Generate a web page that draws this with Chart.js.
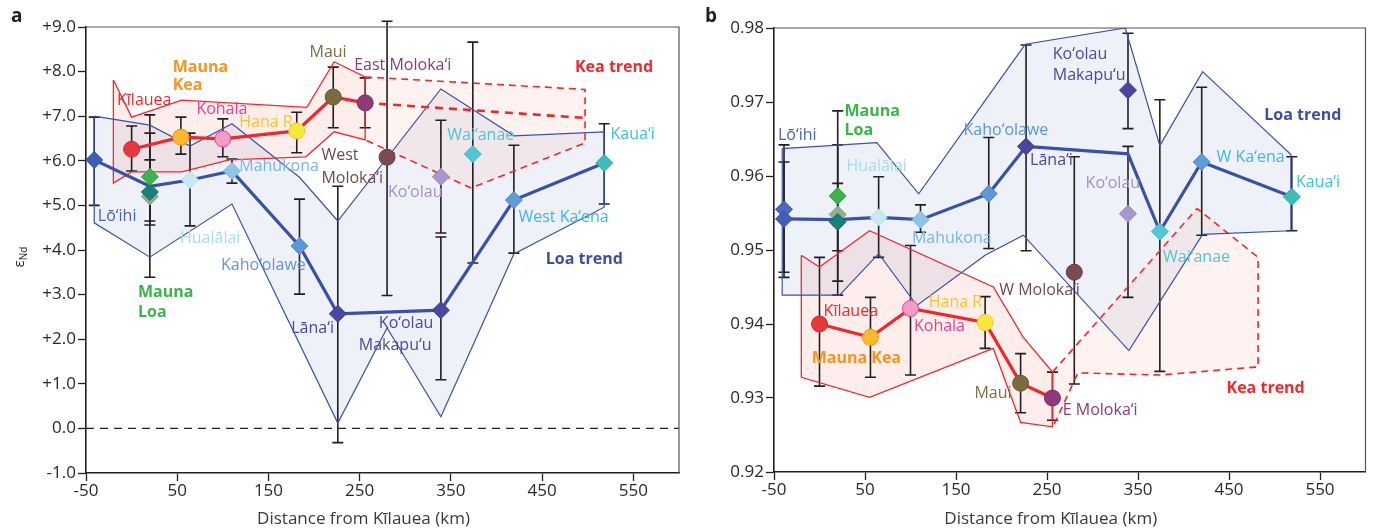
<!DOCTYPE html>
<html><head><meta charset="utf-8">
<script src="https://cdn.jsdelivr.net/npm/chart.js@4.4.1/dist/chart.umd.min.js"></script>
<style>
html,body{margin:0;padding:0;background:#fff;}
body{width:1375px;height:528px;overflow:hidden;position:relative;}
canvas{position:absolute;top:0;}
</style></head><body>
<canvas id="ca" width="690" height="528" style="left:0;width:690px;height:528px"></canvas>
<canvas id="cb" width="687" height="528" style="left:688px;width:687px;height:528px"></canvas>
<script>
// ---------------- DATA ----------------
const xTicks = [-50, 50, 150, 250, 350, 450, 550];
const ndTicks = [-1, 0, 1, 2, 3, 4, 5, 6, 7, 8, 9];
const pbTicks = [0.92, 0.93, 0.94, 0.95, 0.96, 0.97, 0.98];

// Panel a (eNd)
const loaTrendX_a = [-41, 20, 64, 110, 184, 226, 339, 419, 518];
const loaTrendNd  = [6.02, 5.43, 5.57, 5.77, 4.09, 2.57, 2.65, 5.12, 5.95];
const keaTrendX_a = [0, 54, 100, 181, 221, 256];
const keaTrendNd  = [6.26, 6.53, 6.49, 6.67, 7.43, 7.30];
const keaProjX_a  = [256, 497];
const keaProjNd   = [7.30, 6.96];
const loaEnvX_a = [-41, 20, 64, 110, 184, 226, 339, 419, 518, 518, 419, 339, 280, 226, 110, 20, -41];
const loaEnvNd  = [7.0, 6.8, 6.33, 6.83, 5.63, 4.65, 7.61, 6.56, 6.65, 4.96, 3.91, 0.26, 2.25, 0.12, 5.03, 3.84, 4.61];
const keaEnvX_a = [-20, 0, 55, 192, 222, 256, 256, 222, 191, 107, 55, 0, -20];
const keaEnvNd  = [7.81, 6.98, 7.36, 7.2, 8.22, 7.88, 6.47, 6.65, 6.09, 6.02, 5.75, 5.75, 5.5];
const keaProjEnvX_a = [256, 497, 497, 372, 256];
const keaProjEnvNd  = [7.88, 7.6, 6.4, 5.39, 6.47];
const zeroLineX = [-50, 600];
const zeroLineY = [0, 0];
const sampleKey_a = ['kil','mk','koh','hana','maui','emol','wmol','loi','mlg','mlt','ml','hua','mah','kah','lan','koo','kmk','wai','wka','kau'];
const sampleX_a   = [0, 54, 100, 181, 221, 256, 280, -41, 20, 20, 20, 64, 110, 184, 226, 339, 339, 374, 419, 518];
const sampleNd    = [6.26, 6.53, 6.49, 6.67, 7.43, 7.30, 6.08, 6.02, 5.20, 5.30, 5.64, 5.57, 5.77, 4.09, 2.57, 5.64, 2.65, 6.15, 5.12, 5.95];
const errX_a  = [-41, 20, 20, 20, 0, 54, 64, 100, 110, 181, 184, 221, 226, 256, 280, 339, 339, 374, 419, 518];
const errLoNd = [5.0, 4.65, 4.56, 3.39, 5.77, 6.15, 4.54, 6.09, 5.5, 6.18, 3.01, 6.74, -0.32, 6.74, 2.98, 4.38, 1.09, 3.71, 3.93, 5.03];
const errHiNd = [6.98, 7.03, 6.62, 6.02, 6.78, 6.98, 6.62, 6.94, 6.04, 7.09, 5.14, 8.10, 5.43, 7.86, 9.13, 6.91, 4.29, 8.66, 6.35, 6.83];

// Panel b (208Pb*/206Pb*)
const loaTrendX_b = [-39, 20, 65, 111, 186, 227, 339, 374, 420, 519];
const loaTrendPb  = [0.9542, 0.9541, 0.9544, 0.9541, 0.9576, 0.9640, 0.9630, 0.9525, 0.9619, 0.9572];
const keaTrendX_b = [0, 56, 100, 182, 221, 256];
const keaTrendPb  = [0.9400, 0.9382, 0.9421, 0.9402, 0.9320, 0.9300];
const loaEnvX_b = [-41, 63, 109, 226, 336, 374, 421, 518, 518, 421, 340, 224, 182, 107, 65, 22, -41];
const loaEnvPb  = [0.9637, 0.9645, 0.9576, 0.9778, 0.9800, 0.9641, 0.9741, 0.9629, 0.9526, 0.9521, 0.9364, 0.9520, 0.9493, 0.9425, 0.9495, 0.9439, 0.9439];
const keaEnvX_b = [-20, 0, 55, 191, 224, 256, 256, 221, 191, 55, -20];
const keaEnvPb  = [0.9493, 0.9477, 0.9526, 0.9450, 0.9382, 0.9335, 0.9261, 0.9267, 0.9367, 0.9301, 0.9328];
const keaProjEnvX_b = [256, 415, 482, 482, 374, 284, 257];
const keaProjEnvPb  = [0.9335, 0.9556, 0.9490, 0.9342, 0.9331, 0.9334, 0.9262];
const sampleKey_b = ['kil','mk','koh','hana','maui','emol','wmol','loi2','loi','mlg','mlt','ml','hua','mah','kah','lan','koo','kmk','wai','wka','kau'];
const sampleX_b   = [0, 56, 100, 182, 221, 256, 280, -39, -39, 20, 20, 20, 65, 111, 186, 227, 339, 339, 374, 420, 519];
const samplePb    = [0.9400, 0.9382, 0.9421, 0.9402, 0.9320, 0.9300, 0.9470, 0.9555, 0.9542, 0.9548, 0.9538, 0.9573, 0.9544, 0.9541, 0.9576, 0.9640, 0.9549, 0.9716, 0.9525, 0.9619, 0.9572];
const errX_b  = [-39, -39, 20, 20, 20, 0, 56, 65, 100, 111, 182, 186, 221, 227, 256, 280, 339, 339, 374, 420, 519];
const errLoPb = [0.9470, 0.9463, 0.9458, 0.9499, 0.9439, 0.9316, 0.9328, 0.9490, 0.9331, 0.9524, 0.9367, 0.9502, 0.9280, 0.9499, 0.9270, 0.9319, 0.9664, 0.9436, 0.9336, 0.9520, 0.9526];
const errHiPb = [0.9642, 0.9619, 0.9688, 0.9590, 0.9642, 0.9490, 0.9436, 0.9599, 0.9506, 0.9561, 0.9437, 0.9652, 0.9360, 0.9777, 0.9335, 0.9626, 0.9793, 0.9640, 0.9703, 0.9720, 0.9626];

// Text labels
const labelText_a = ['Mauna','Kea','Kīlauea','Kohala','Hana R','Maui','East Moloka‘i','Kea trend','West','Moloka‘i','Wai‘anae','Kaua‘i','Ko‘olau','West Ka‘ena','Loa trend','Lō‘ihi','Hualālai','Mahukona','Kaho‘olawe','Mauna','Loa','Lāna‘i','Ko‘olau','Makapu‘u'];
const labelText_b = ['Lō‘ihi','Mauna','Loa','Hualālai','Kaho‘olawe','Lāna‘i','Mahukona','Ko‘olau','Makapu‘u','Loa trend','W Ka‘ena','Kaua‘i','Ko‘olau','Wai‘anae','W Moloka‘i','Hana R','Kīlauea','Kohala','Mauna Kea','Maui','E Moloka‘i','Kea trend'];

// ---------------- STYLE / LAYOUT ----------------
const FONT = "'Open Sans', 'DejaVu Sans', sans-serif";
Chart.defaults.font.family = FONT;
const INK = '#231f20';
const STY = {
  kil:{s:'circle', f:'#e43a3c', b:'#d42a2e'}, mk:{s:'circle', f:'#fdb92c', b:'#f28c1c'},
  koh:{s:'circle', f:'#f49bc6', b:'#e8428f'}, hana:{s:'circle', f:'#f4e83a', b:'#f6c62b'},
  maui:{s:'circle', f:'#7b6b3d', b:'#6a5b30'}, emol:{s:'circle', f:'#8e3b79', b:'#7a2e68'},
  wmol:{s:'circle', f:'#7a4b50', b:'#6a3d42'},
  loi:{s:'rectRot', f:'#3f5fb4', b:'#3a55a8'}, loi2:{s:'rectRot', f:'#4a6bbd', b:'#3a55a8'},
  ml:{s:'rectRot', f:'#3cb44b', b:'#2fa040'}, mlg:{s:'rectRot', f:'#93ae8f', b:'#869f83'},
  mlt:{s:'rectRot', f:'#18807a', b:'#136e69'}, hua:{s:'rectRot', f:'#c7e9f2', b:'#b5dfea'},
  mah:{s:'rectRot', f:'#90c5e9', b:'#7db6e0'}, kah:{s:'rectRot', f:'#5f98d5', b:'#4f88c8'},
  lan:{s:'rectRot', f:'#4b47a1', b:'#403c94'}, koo:{s:'rectRot', f:'#a996ca', b:'#9884bd'},
  kmk:{s:'rectRot', f:'#4b47a1', b:'#403c94'}, wai:{s:'rectRot', f:'#4fc7d7', b:'#40b7c8'},
  wka:{s:'rectRot', f:'#5f9bd7', b:'#4f8bc8'}, kau:{s:'rectRot', f:'#3dbdb9', b:'#30aaa6'}
};
const C = {or:'#f7941d', red:'#ee2a2e', pink:'#ec3f92', yel:'#fcc22d', olive:'#7a7042', plum:'#8e3a7c',
  brown:'#6e4b4d', cyan:'#52c4d8', cyan2:'#3cc3d8', lav:'#a590c8', sky:'#3fb5ea', blue:'#3b4ea3',
  loi:'#4863b1', hua:'#a7dbee', mah:'#7ab5e2', kah:'#5d97d6', grn:'#3ab54a', ind:'#4c47a2'};
// label anchors (data units) + colour + bold
const labelPos_a = [[45,8.10,C.or,1],[45,7.70,C.or,1],[-16,7.36,C.red],[71,7.16,C.pink],[118,6.87,C.yel],[195,8.44,C.olive],
  [244,8.13,C.plum],[486,8.10,C.red,1],[208,6.13,C.brown],[208,5.61,C.brown],[346,6.56,C.cyan],[525,6.58,C.cyan2],
  [281,5.28,C.lav],[424,4.72,C.sky],[454,3.78,C.blue,1],[-37,4.76,C.loi],[53,4.27,C.hua],[118,5.88,C.mah],
  [98,3.66,C.kah],[7,3.04,C.grn,1],[7,2.61,C.grn,1],[175,2.25,C.ind],[271,2.36,C.ind],[249,1.85,C.ind]];
const labelPos_b = [[-45.6,0.96544,C.loi],[27.4,0.96867,C.grn,1],[27.4,0.96611,C.grn,1],[29.6,0.96126,C.hua],
  [158.3,0.96611,C.kah],[231.4,0.96207,C.ind],[101.6,0.95155,C.mah],[256.4,0.97649,C.ind],[256.4,0.97353,C.ind],
  [488.7,0.96814,C.blue,1],[436.4,0.96247,C.sky],[523.6,0.9591,C.cyan2],[292.4,0.95897,C.lav],[377.5,0.94899,C.cyan],
  [197.5,0.94454,C.brown],[120.1,0.94292,C.yel],[4.5,0.94171,C.red],[103.8,0.93969,C.pink],[-8.6,0.93537,C.or,1],
  [170.3,0.93065,C.olive],[267.3,0.92836,C.plum],[447.3,0.93133,C.red,1]];

function P(xs, ys){ return xs.map((x,i)=>({x:x, y:ys[i]})); }
function closed(xs, ys){ const p = P(xs, ys); p.push(p[0]); return p; }

const overlay = {
  id:'overlay',
  beforeDatasetsDraw(chart, args, o){
    const {ctx, chartArea:a, scales:{x, y}} = chart;
    ctx.save();
    ctx.beginPath(); ctx.rect(a.left, a.top, a.right-a.left, a.bottom-a.top); ctx.clip();
    o.fills.forEach(f=>{
      ctx.beginPath();
      f.x.forEach((v,i)=>{ const px=x.getPixelForValue(v), py=y.getPixelForValue(f.y[i]); if(i) ctx.lineTo(px,py); else ctx.moveTo(px,py); });
      ctx.closePath(); ctx.fillStyle=f.c; ctx.fill();
    });
    ctx.restore();
    ctx.save();
    ctx.strokeStyle = INK; ctx.lineWidth = 1.6;
    o.err.x.forEach((v,i)=>{
      const px = x.getPixelForValue(v), lo = y.getPixelForValue(o.err.lo[i]), hi = y.getPixelForValue(o.err.hi[i]);
      ctx.beginPath();
      ctx.moveTo(px, lo); ctx.lineTo(px, hi);
      ctx.moveTo(px-5.5, lo); ctx.lineTo(px+5.5, lo);
      ctx.moveTo(px-5.5, hi); ctx.lineTo(px+5.5, hi);
      ctx.stroke();
    });
    ctx.restore();
  },
  afterDatasetsDraw(chart, args, o){
    const {ctx, chartArea:a, scales:{x, y}} = chart;
    ctx.save();
    ctx.textAlign='left'; ctx.textBaseline='middle';
    o.labels.text.forEach((t,i)=>{
      const p = o.labels.pos[i];
      ctx.font = (p[3] ? 'bold ' : '') + '16px ' + FONT;
      ctx.fillStyle = p[2];
      ctx.fillText(t, x.getPixelForValue(p[0]), y.getPixelForValue(p[1]));
    });
    // top & right frame
    ctx.strokeStyle='#555'; ctx.lineWidth=1.2;
    ctx.beginPath(); ctx.moveTo(a.left, a.top); ctx.lineTo(a.right, a.top); ctx.lineTo(a.right, a.bottom); ctx.stroke();
    ctx.restore();
  },
  afterDraw(chart, args, o){
    const {ctx, chartArea:a} = chart;
    ctx.save();
    ctx.fillStyle = INK;
    ctx.font = 'bold 19px ' + FONT; ctx.textAlign='left'; ctx.textBaseline='alphabetic';
    ctx.fillText(o.panel, o.panelX, 22);
    ctx.fillStyle = '#3a3a3a';
    ctx.font = '17px ' + FONT; ctx.textAlign='center';
    ctx.fillText('Distance from Kīlauea (km)', (a.left+a.right)/2 - 19, 524);
    ctx.fillStyle = INK;
    o.ytitle(ctx);
    ctx.restore();
  }
};

function makeChart(id, c){
  const datasets = [
    { data:P(c.sx, c.sy), showLine:false, order:0,
      pointStyle:c.sk.map(k=>STY[k].s), pointBackgroundColor:c.sk.map(k=>STY[k].f),
      pointBorderColor:c.sk.map(k=>STY[k].b), pointRadius:c.sk.map(k=>STY[k].s==='circle'?8:8.5), pointBorderWidth:1 },
    { data:P(c.loaX, c.loaY), showLine:true, borderColor:'#3a52a6', borderWidth:3.2, pointRadius:0, order:1 },
    { data:P(c.keaX, c.keaY), showLine:true, borderColor:'#ea2a2f', borderWidth:3.2, pointRadius:0, order:1 },
    { data:closed(c.loaEX, c.loaEY), showLine:true, borderColor:'#3a52a6', borderWidth:1.2, pointRadius:0, order:2 },
    { data:closed(c.keaEX, c.keaEY), showLine:true, borderColor:'#ee2a2e', borderWidth:1.3, pointRadius:0, order:2 },
    { data:P(c.kpEX, c.kpEY), showLine:true, borderColor:'#ee2a2e', borderWidth:1.6, borderDash:[7,5], pointRadius:0, order:2 }
  ];
  if (c.extra) c.extra.forEach(d=>datasets.push(d));
  return new Chart(document.getElementById(id), {
    type:'scatter',
    data:{datasets},
    options:{
      responsive:false, animation:false, devicePixelRatio:1,
      layout:{padding:{top:c.top, right:c.right, left:0, bottom:0}},
      plugins:{legend:{display:false}, tooltip:{enabled:false},
        overlay:{fills:c.fills, err:c.err, labels:c.labels, panel:c.panel, panelX:c.panelX, ytitle:c.ytitle}},
      scales:{
        x:{type:'linear', min:-50, max:600,
          afterBuildTicks:s=>{ s.ticks = xTicks.map(v=>({value:v})); },
          afterFit:s=>{ s.height = c.xh; },
          grid:{drawOnChartArea:false, drawTicks:true, tickLength:8, color:INK, tickWidth:1.3},
          border:{display:true, color:INK, width:1.6},
          ticks:{color:'#2a2a2a', font:{size:17}, padding:0, maxRotation:0, autoSkip:false}},
        y:{type:'linear', min:c.ymin, max:c.ymax,
          afterBuildTicks:s=>{ s.ticks = c.yt.map(v=>({value:v})); },
          afterFit:s=>{ s.width = 86; },
          grid:{drawOnChartArea:false, drawTicks:true, tickLength:8, color:INK, tickWidth:1.3},
          border:{display:true, color:INK, width:1.6},
          ticks:{color:'#2a2a2a', font:{size:17}, padding:2, autoSkip:false, callback:c.fmt}}
      }
    },
    plugins:[overlay]
  });
}

makeChart('ca', {
  sx:sampleX_a, sy:sampleNd, sk:sampleKey_a,
  loaX:loaTrendX_a, loaY:loaTrendNd, keaX:keaTrendX_a, keaY:keaTrendNd,
  loaEX:loaEnvX_a, loaEY:loaEnvNd, keaEX:keaEnvX_a, keaEY:keaEnvNd, kpEX:keaProjEnvX_a, kpEY:keaProjEnvNd,
  extra:[
    { data:P(keaProjX_a, keaProjNd), showLine:true, borderColor:'#ea2a2f', borderWidth:2.6, borderDash:[8,6], pointRadius:0, order:1 },
    { data:P(zeroLineX, zeroLineY), showLine:true, borderColor:INK, borderWidth:1.3, borderDash:[8,6], pointRadius:0, order:3 }
  ],
  fills:[{x:loaEnvX_a, y:loaEnvNd, c:'rgba(70,95,175,0.09)'},
         {x:keaEnvX_a, y:keaEnvNd, c:'rgba(238,95,75,0.11)'},
         {x:keaProjEnvX_a, y:keaProjEnvNd, c:'rgba(245,120,90,0.09)'}],
  err:{x:errX_a, lo:errLoNd, hi:errHiNd},
  labels:{text:labelText_a, pos:labelPos_a},
  top:27, right:11, xh:55, ymin:-1, ymax:9, yt:ndTicks,
  fmt:v=> (v>0?'+':'') + Number(v).toFixed(1),
  panel:'a', panelX:11,
  ytitle:(ctx)=>{
    ctx.save(); ctx.translate(24, 257); ctx.rotate(-Math.PI/2);
    ctx.textAlign='left'; ctx.textBaseline='alphabetic';
    ctx.font='15px '+FONT; const w1 = ctx.measureText('ε').width;
    ctx.font='10px '+FONT; const w2 = ctx.measureText('Nd').width;
    const s = -(w1+w2)/2;
    ctx.font='15px '+FONT; ctx.fillText('ε', s, 0);
    ctx.font='10px '+FONT; ctx.fillText('Nd', s+w1, 3);
    ctx.restore();
  }
});

makeChart('cb', {
  sx:sampleX_b, sy:samplePb, sk:sampleKey_b,
  loaX:loaTrendX_b, loaY:loaTrendPb, keaX:keaTrendX_b, keaY:keaTrendPb,
  loaEX:loaEnvX_b, loaEY:loaEnvPb, keaEX:keaEnvX_b, keaEY:keaEnvPb, kpEX:keaProjEnvX_b, kpEY:keaProjEnvPb,
  fills:[{x:loaEnvX_b, y:loaEnvPb, c:'rgba(70,95,175,0.09)'},
         {x:keaEnvX_b, y:keaEnvPb, c:'rgba(238,95,75,0.11)'},
         {x:keaProjEnvX_b, y:keaProjEnvPb, c:'rgba(245,120,90,0.09)'}],
  err:{x:errX_b, lo:errLoPb, hi:errHiPb},
  labels:{text:labelText_b, pos:labelPos_b},
  top:28, right:6, xh:56, ymin:0.92, ymax:0.98, yt:pbTicks,
  fmt:v=> Number(v).toFixed(2),
  panel:'b', panelX:17,
  ytitle:(ctx)=>{
    ctx.save(); ctx.translate(719, 251); ctx.rotate(-Math.PI/2);
    ctx.textAlign='left'; ctx.textBaseline='alphabetic';
    const parts = [['208',10,-7],['Pb*',16,0],['/',16,0],['206',10,-7],['Pb*',16,0]];
    let w = 0; parts.forEach(p=>{ ctx.font=p[1]+'px '+FONT; w += ctx.measureText(p[0]).width + (p[0]==='/'?2:0); });
    let s = -w/2;
    parts.forEach(p=>{ ctx.font=p[1]+'px '+FONT; ctx.fillText(p[0], s, p[2]); s += ctx.measureText(p[0]).width + (p[0]==='/'?2:0); });
    ctx.restore();
  }
});
</script>
</body></html>
